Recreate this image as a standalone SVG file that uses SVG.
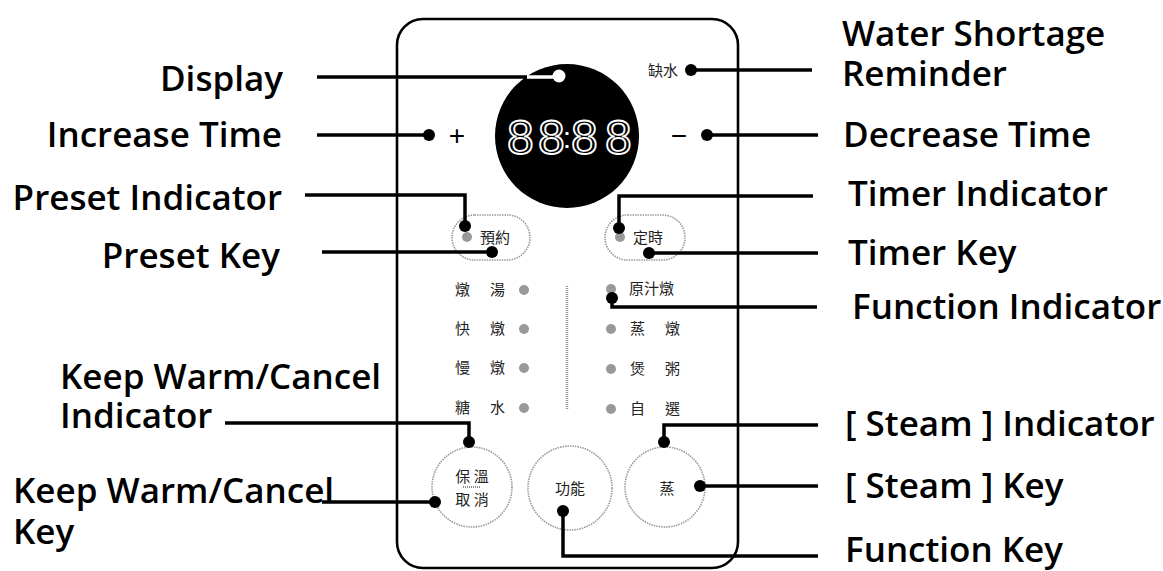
<svg xmlns="http://www.w3.org/2000/svg" width="1163" height="571" viewBox="0 0 1163 571">
<style>
.lbl{font-family:"Open Sans","Liberation Sans",sans-serif;font-weight:600;font-size:35px;fill:#000}
.cjk{font-family:"Noto Sans CJK TC","Noto Sans CJK SC",sans-serif;font-size:15px;fill:#222}
.con{fill:none;stroke:#000;stroke-width:3.5}
.dot{fill:#000}
.led{fill:#999}
.outl{fill:none;stroke:#999;stroke-width:1.6;stroke-dasharray:1.5 1}
</style>
<rect width="1163" height="571" fill="#fff"/>
<g id="panel">
<rect x="397" y="19" width="341" height="549" rx="26" fill="none" stroke="#000" stroke-width="2.6"/>
</g>
<g id="display">
<circle cx="567" cy="136" r="72" fill="#000"/>
<text font-family="Liberation Sans,sans-serif" font-size="48" fill="none" stroke="#fff" stroke-width="1.8" y="154"><tspan x="507">8</tspan><tspan x="538">8</tspan><tspan x="571">8</tspan><tspan x="605">8</tspan></text>
<text font-family="Liberation Sans,sans-serif" font-size="30" fill="#fff" x="567" y="148" text-anchor="middle">:</text>
</g>
<g id="water-shortage">
<text class="cjk" x="648" y="76" font-size="13">缺水</text>
</g>
<g id="increase"><text x="457" y="145" text-anchor="middle" font-family="Liberation Sans,sans-serif" font-size="28" fill="#000">+</text></g>
<g id="decrease"><text x="679" y="145" text-anchor="middle" font-family="Liberation Sans,sans-serif" font-size="28" fill="#000">−</text></g>
<g id="preset-key">
<rect x="452" y="215" width="78" height="45" rx="22.5" class="outl"/>
<circle cx="467" cy="237" r="5" class="led"/>
<text class="cjk" x="480" y="243">預約</text>
</g>
<g id="timer-key">
<rect x="605" y="215" width="80" height="45" rx="22.5" class="outl"/>
<circle cx="620" cy="237" r="5" class="led"/>
<text class="cjk" x="633" y="243">定時</text>
</g>
<g id="functions-left">
<text class="cjk" x="455" y="295">燉</text><text class="cjk" x="490" y="295">湯</text><circle cx="524" cy="290" r="5" class="led"/>
<text class="cjk" x="455" y="334">快</text><text class="cjk" x="490" y="334">燉</text><circle cx="524" cy="329" r="5" class="led"/>
<text class="cjk" x="455" y="373">慢</text><text class="cjk" x="490" y="373">燉</text><circle cx="524" cy="368" r="5" class="led"/>
<text class="cjk" x="455" y="413">糖</text><text class="cjk" x="490" y="413">水</text><circle cx="524" cy="408" r="5" class="led"/>
</g>
<g id="divider"><line x1="567" y1="286" x2="567" y2="410" stroke="#999" stroke-width="2.5" stroke-dasharray="1 1"/></g>
<g id="functions-right">
<circle cx="611" cy="289" r="5" class="led"/><text class="cjk" x="629" y="294">原汁燉</text>
<circle cx="611" cy="329" r="5" class="led"/><text class="cjk" x="630" y="334">蒸</text><text class="cjk" x="665" y="334">燉</text>
<circle cx="611" cy="369" r="5" class="led"/><text class="cjk" x="630" y="374">煲</text><text class="cjk" x="665" y="374">粥</text>
<circle cx="611" cy="409" r="5" class="led"/><text class="cjk" x="630" y="414">自</text><text class="cjk" x="665" y="414">選</text>
</g>
<g id="keep-warm-key">
<circle cx="472" cy="487" r="40" class="outl"/>
<circle cx="469" cy="442" r="5" class="led"/>
<text class="cjk" x="472" y="482" text-anchor="middle" font-size="16">保 溫</text>
<line x1="463" y1="487" x2="481" y2="487" stroke="#666" stroke-width="1.5" stroke-dasharray="1 1"/>
<text class="cjk" x="472" y="505" text-anchor="middle" font-size="16">取 消</text>
</g>
<g id="function-key">
<circle cx="570" cy="488" r="42" class="outl"/>
<text class="cjk" x="570" y="494" text-anchor="middle" font-size="16">功能</text>
</g>
<g id="steam-key">
<circle cx="665" cy="487" r="40" class="outl"/>
<circle cx="664" cy="442" r="5" class="led"/>
<text class="cjk" x="667" y="494" text-anchor="middle" font-size="16">蒸</text>
</g>
<g id="connectors">
<path class="con" d="M317 77H527"/>
<path d="M527 77H559" stroke="#fff" stroke-width="3.5"/><circle cx="559" cy="76" r="6.5" fill="#fff"/>
<path class="con" d="M317 135H429"/><circle class="dot" cx="429" cy="135" r="6"/>
<path class="con" d="M305 195H465V226"/><circle class="dot" cx="465" cy="226" r="6"/>
<path class="con" d="M322 252H492"/><circle class="dot" cx="492" cy="252" r="6"/>
<path class="con" d="M225 423H469V442"/><circle class="dot" cx="469" cy="442" r="6"/>
<path class="con" d="M322 502H435"/><circle class="dot" cx="435" cy="502" r="6"/>
<path class="con" d="M691 70H812"/><circle class="dot" cx="691" cy="70" r="6"/>
<path class="con" d="M707 135H818"/><circle class="dot" cx="707" cy="135" r="6"/>
<path class="con" d="M619 228V196H813"/><circle class="dot" cx="619" cy="228" r="6"/>
<path class="con" d="M649 253H818"/><circle class="dot" cx="649" cy="253" r="6"/>
<path class="con" d="M612 298V307H817"/><circle class="dot" cx="612" cy="298" r="6"/>
<path class="con" d="M664 442V425H818"/><circle class="dot" cx="664" cy="442" r="6"/>
<path class="con" d="M700 486H818"/><circle class="dot" cx="700" cy="486" r="6"/>
<path class="con" d="M563 511V556H818"/><circle class="dot" cx="563" cy="511" r="6"/>
</g>
<g id="labels-left">
<text class="lbl" x="283" y="91" text-anchor="end">Display</text>
<text class="lbl" x="282" y="147" text-anchor="end">Increase Time</text>
<text class="lbl" x="282" y="210" text-anchor="end">Preset Indicator</text>
<text class="lbl" x="280" y="268" text-anchor="end">Preset Key</text>
<text class="lbl" x="60" y="389">Keep Warm/Cancel</text>
<text class="lbl" x="60" y="428">Indicator</text>
<text class="lbl" x="13" y="503">Keep Warm/Cancel</text>
<text class="lbl" x="13" y="544">Key</text>
</g>
<g id="labels-right">
<text class="lbl" x="842" y="46">Water Shortage</text>
<text class="lbl" x="842" y="86">Reminder</text>
<text class="lbl" x="843" y="147">Decrease Time</text>
<text class="lbl" x="848" y="206">Timer Indicator</text>
<text class="lbl" x="848" y="265">Timer Key</text>
<text class="lbl" x="852" y="319">Function Indicator</text>
<text class="lbl" x="845" y="436">[ Steam ] Indicator</text>
<text class="lbl" x="845" y="498">[ Steam ] Key</text>
<text class="lbl" x="845" y="562">Function Key</text>
</g>
</svg>
